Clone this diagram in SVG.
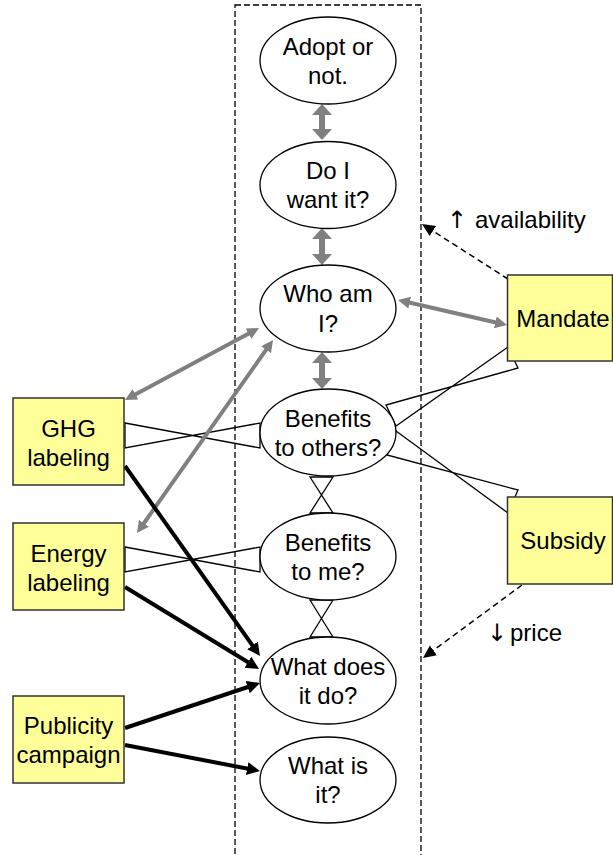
<svg xmlns="http://www.w3.org/2000/svg" width="613" height="855" viewBox="0 0 613 855">
<style>
text{font-family:"Liberation Sans",Arial,sans-serif;font-size:24px;fill:#000;}
.c{text-anchor:middle;}
.arr{font-family:"DejaVu Sans",sans-serif;font-size:24px;fill:#000;}
.ell{fill:#fff;stroke:#000;stroke-width:1.3;}
.box{fill:#ffff99;stroke:#333;stroke-width:1.5;}
.gray{stroke:#808080;stroke-width:4;fill:none;marker-start:url(#mg);marker-end:url(#mg);}
.grayv{stroke:#808080;stroke-width:6;fill:none;marker-start:url(#mgv);marker-end:url(#mgv);}
.blk{stroke:#000;stroke-width:4;fill:none;marker-end:url(#mb);}
.dash{stroke:#000;stroke-width:1.5;fill:none;stroke-dasharray:6 4;marker-end:url(#md);}
.wedge{fill:none;stroke:#000;stroke-width:1.3;stroke-linejoin:miter;}
</style>
<defs>
<marker id="mg" markerUnits="userSpaceOnUse" markerWidth="14" markerHeight="14" refX="4" refY="6" orient="auto-start-reverse"><path d="M0,0 L12,6 L0,12 Z" fill="#808080"/></marker>
<marker id="mgv" markerUnits="userSpaceOnUse" markerWidth="22" markerHeight="22" refX="3" refY="10" orient="auto-start-reverse"><path d="M0,0 L11,10 L0,20 Z" fill="#808080"/></marker>
<marker id="mb" markerUnits="userSpaceOnUse" markerWidth="15" markerHeight="15" refX="5" refY="6.5" orient="auto"><path d="M0,0 L13,6.5 L0,13 Z" fill="#000"/></marker>
<marker id="md" markerUnits="userSpaceOnUse" markerWidth="15" markerHeight="15" refX="5" refY="6" orient="auto"><path d="M0,0 L13,6 L0,12 Z" fill="#000"/></marker>
</defs>

<rect id="container" x="235" y="5" width="186" height="900" fill="none" stroke="#000" stroke-width="1.3" stroke-dasharray="6 3"/>

<g id="connectors">
<path class="wedge" d="M125,423 L260,448 L260,423 L125,448 Z"/>
<path class="wedge" d="M125,547 L260,572 L260,547 L125,572 Z"/>
<path class="wedge" d="M508,347 L396,426 L386,405 L518,368 Z"/>
<path class="wedge" d="M508,513 L396,431 L387,455 L518,490 Z"/>
<path class="wedge" d="M310,477 L333,477 L310,513 L333,513 Z"/>
<path class="wedge" d="M310,600 L333,600 L310,637 L333,637 Z"/>
<line class="grayv" x1="322" y1="112" x2="322" y2="132"/>
<line class="grayv" x1="322" y1="236" x2="322" y2="257"/>
<line class="grayv" x1="322" y1="360" x2="322" y2="381"/>
<line class="gray" x1="405.8" y1="301.8" x2="499.2" y2="323.2"/>
<line class="gray" x1="132" y1="396.2" x2="252" y2="331.8"/>
<line class="gray" x1="141.6" y1="526.5" x2="268.4" y2="346.5"/>
<line class="blk" x1="125" y1="466" x2="255.4" y2="649.5"/>
<line class="blk" x1="125" y1="587" x2="252.2" y2="664.8"/>
<line class="blk" x1="125" y1="728" x2="252.4" y2="685.5"/>
<line class="blk" x1="125" y1="745" x2="252.1" y2="769.5"/>
<line class="dash" x1="508" y1="279" x2="428.7" y2="228.3"/>
<line class="dash" x1="522" y1="585" x2="429.4" y2="653.3"/>
</g>

<g id="adopt"><ellipse class="ell" cx="328" cy="60.5" rx="68" ry="43.5"/><text class="c" x="328" y="54.5">Adopt or</text><text class="c" x="328" y="83.5">not.</text></g>
<g id="want"><ellipse class="ell" cx="328" cy="185" rx="68" ry="43.5"/><text class="c" x="328" y="179">Do I</text><text class="c" x="328" y="208">want it?</text></g>
<g id="who"><ellipse class="ell" cx="328" cy="308.5" rx="68" ry="43.5"/><text class="c" x="328" y="302">Who am</text><text class="c" x="328" y="331.5">I?</text></g>
<g id="others"><ellipse class="ell" cx="328" cy="432.5" rx="68" ry="43.5"/><text class="c" x="328" y="426.5">Benefits</text><text class="c" x="328" y="455.5">to others?</text></g>
<g id="me"><ellipse class="ell" cx="328" cy="556.5" rx="68" ry="43.5"/><text class="c" x="328" y="550.5">Benefits</text><text class="c" x="328" y="579.5">to me?</text></g>
<g id="does"><ellipse class="ell" cx="328" cy="680.5" rx="68" ry="43.5"/><text class="c" x="328" y="674.5">What does</text><text class="c" x="328" y="703.5">it do?</text></g>
<g id="is"><ellipse class="ell" cx="328" cy="780" rx="68" ry="43"/><text class="c" x="328" y="774">What is</text><text class="c" x="328" y="803">it?</text></g>

<g id="ghg"><rect class="box" x="13" y="398" width="111" height="87"/><text class="c" x="68.5" y="437">GHG</text><text class="c" x="68.5" y="466">labeling</text></g>
<g id="energy"><rect class="box" x="13" y="523" width="111" height="87"/><text class="c" x="68.5" y="561.5">Energy</text><text class="c" x="68.5" y="590.5">labeling</text></g>
<g id="publicity"><rect class="box" x="13" y="696" width="111" height="87"/><text class="c" x="68.5" y="733.5">Publicity</text><text class="c" x="68.5" y="762.5">campaign</text></g>
<g id="mandate"><rect class="box" x="507.5" y="275" width="105" height="86"/><text class="c" x="563" y="327">Mandate</text></g>
<g id="subsidy"><rect class="box" x="507.5" y="497" width="105" height="87"/><text class="c" x="563" y="549">Subsidy</text></g>

<text x="447" y="228"><tspan class="arr">↑</tspan> <tspan x="475">availability</tspan></text>
<text x="487" y="641"><tspan class="arr">↓</tspan> <tspan x="510">price</tspan></text>
</svg>
